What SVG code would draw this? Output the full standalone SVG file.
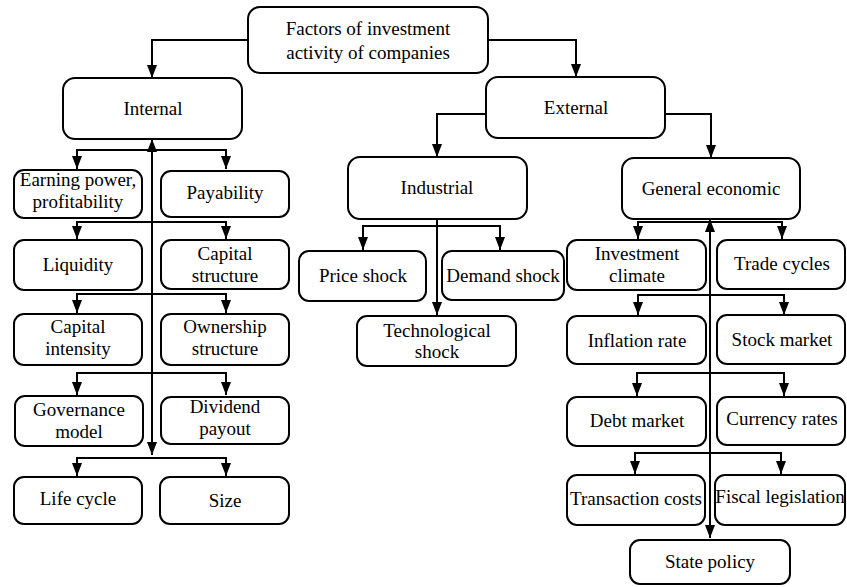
<svg xmlns="http://www.w3.org/2000/svg" width="847" height="587" viewBox="0 0 847 587">
<style>
  .box { fill: #fff; stroke: #000; stroke-width: 2; }
  .t { font-family: "Liberation Serif", "Times New Roman", serif; font-size: 19px; fill: #000; text-anchor: middle; }
  .c { fill: none; stroke: #000; stroke-width: 2; }
  .a2 { marker-start: url(#arr); marker-end: url(#arr); }
  .a1 { marker-end: url(#arr); }
</style>
<defs>
  <marker id="arr" viewBox="0 0 13 10" refX="13" refY="5" markerWidth="13" markerHeight="10" markerUnits="userSpaceOnUse" orient="auto-start-reverse">
    <path d="M0,0 L13,5 L0,10 z" fill="#000"/>
  </marker>
</defs>
<rect width="847" height="587" fill="#fff"/>

<g id="connectors">
  <path class="c a1" d="M248,40 H152 V78"/>
  <path class="c a1" d="M488,40 H576 V77"/>
  <path class="c a1" d="M486,114 H437 V157"/>
  <path class="c a1" d="M665,114 H711 V158"/>
  <path class="c a2" d="M152,455 V139"/>
  <path class="c a2" d="M77,169 V150 H226 V169"/>
  <path class="c a2" d="M77,239 V222 H226 V239"/>
  <path class="c a2" d="M77,313 V294 H226 V313"/>
  <path class="c a2" d="M77,395 V373 H226 V395"/>
  <path class="c a2" d="M77,476 V458 H226 V476"/>
  <path class="c a1" d="M437,219 V315"/>
  <path class="c a2" d="M363,250 V226 H500 V250"/>
  <path class="c a2" d="M710,538 V219"/>
  <path class="c a2" d="M638,239 V222 H782 V239"/>
  <path class="c a2" d="M638,315 V295 H784 V315"/>
  <path class="c a2" d="M637,396 V373 H784 V396"/>
  <path class="c a2" d="M635,474 V453 H781 V474"/>
</g>

<g id="n-root"><rect class="box" x="248" y="7" width="240" height="66" rx="12"/>
  <text class="t" x="368" y="35">Factors of investment</text>
  <text class="t" x="368" y="59">activity of companies</text></g>
<g id="n-internal"><rect class="box" x="63" y="78" width="179" height="61" rx="12"/>
  <text class="t" x="153" y="115">Internal</text></g>
<g id="n-external"><rect class="box" x="486" y="77" width="179" height="61" rx="12"/>
  <text class="t" x="576" y="114">External</text></g>
<g id="n-industrial"><rect class="box" x="348" y="157" width="179" height="62" rx="12"/>
  <text class="t" x="437" y="194">Industrial</text></g>
<g id="n-general"><rect class="box" x="622" y="158" width="178" height="61" rx="12"/>
  <text class="t" x="711" y="195">General economic</text></g>

<g id="n-earning"><rect class="box" x="14" y="170" width="128" height="48" rx="10"/>
  <text class="t" x="78" y="186">Earning power,</text>
  <text class="t" x="78" y="208">profitability</text></g>
<g id="n-payability"><rect class="box" x="161" y="171" width="128" height="46" rx="10"/>
  <text class="t" x="225" y="199">Payability</text></g>
<g id="n-liquidity"><rect class="box" x="14" y="240" width="128" height="50" rx="10"/>
  <text class="t" x="78" y="271">Liquidity</text></g>
<g id="n-capstruct"><rect class="box" x="161" y="240" width="128" height="49" rx="10"/>
  <text class="t" x="225" y="260">Capital</text>
  <text class="t" x="225" y="282">structure</text></g>
<g id="n-capint"><rect class="box" x="14" y="314" width="128" height="51" rx="10"/>
  <text class="t" x="78" y="333">Capital</text>
  <text class="t" x="78" y="355">intensity</text></g>
<g id="n-ownership"><rect class="box" x="161" y="314" width="128" height="51" rx="10"/>
  <text class="t" x="225" y="333">Ownership</text>
  <text class="t" x="225" y="355">structure</text></g>
<g id="n-governance"><rect class="box" x="15" y="396" width="128" height="50" rx="10"/>
  <text class="t" x="79" y="416">Governance</text>
  <text class="t" x="79" y="438">model</text></g>
<g id="n-dividend"><rect class="box" x="161" y="397" width="128" height="47" rx="10"/>
  <text class="t" x="225" y="413">Dividend</text>
  <text class="t" x="225" y="435">payout</text></g>
<g id="n-lifecycle"><rect class="box" x="14" y="477" width="128" height="47" rx="10"/>
  <text class="t" x="78" y="505">Life cycle</text></g>
<g id="n-size"><rect class="box" x="160" y="477" width="129" height="47" rx="10"/>
  <text class="t" x="225" y="507">Size</text></g>

<g id="n-price"><rect class="box" x="299" y="251" width="127" height="50" rx="10"/>
  <text class="t" x="363" y="282">Price shock</text></g>
<g id="n-demand"><rect class="box" x="442" y="251" width="122" height="49" rx="10"/>
  <text class="t" x="503" y="282">Demand shock</text></g>
<g id="n-tech"><rect class="box" x="357" y="316" width="159" height="50" rx="10"/>
  <text class="t" x="437" y="337">Technological</text>
  <text class="t" x="437" y="358">shock</text></g>

<g id="n-invclimate"><rect class="box" x="567" y="240" width="139" height="50" rx="10"/>
  <text class="t" x="637" y="260">Investment</text>
  <text class="t" x="637" y="282">climate</text></g>
<g id="n-trade"><rect class="box" x="717" y="240" width="128" height="49" rx="10"/>
  <text class="t" x="782" y="270">Trade cycles</text></g>
<g id="n-inflation"><rect class="box" x="567" y="316" width="139" height="48" rx="10"/>
  <text class="t" x="637" y="347">Inflation rate</text></g>
<g id="n-stock"><rect class="box" x="717" y="315" width="128" height="49" rx="10"/>
  <text class="t" x="782" y="346">Stock market</text></g>
<g id="n-debt"><rect class="box" x="567" y="397" width="139" height="49" rx="10"/>
  <text class="t" x="637" y="427">Debt market</text></g>
<g id="n-currency"><rect class="box" x="717" y="397" width="128" height="48" rx="10"/>
  <text class="t" x="782" y="425">Currency rates</text></g>
<g id="n-transaction"><rect class="box" x="567" y="475" width="138" height="50" rx="10"/>
  <text class="t" x="636" y="505">Transaction costs</text></g>
<g id="n-fiscal"><rect class="box" x="715" y="475" width="130" height="50" rx="10"/>
  <text class="t" x="780" y="503">Fiscal legislation</text></g>
<g id="n-state"><rect class="box" x="630" y="540" width="160" height="44" rx="10"/>
  <text class="t" x="710" y="568">State policy</text></g>
</svg>
